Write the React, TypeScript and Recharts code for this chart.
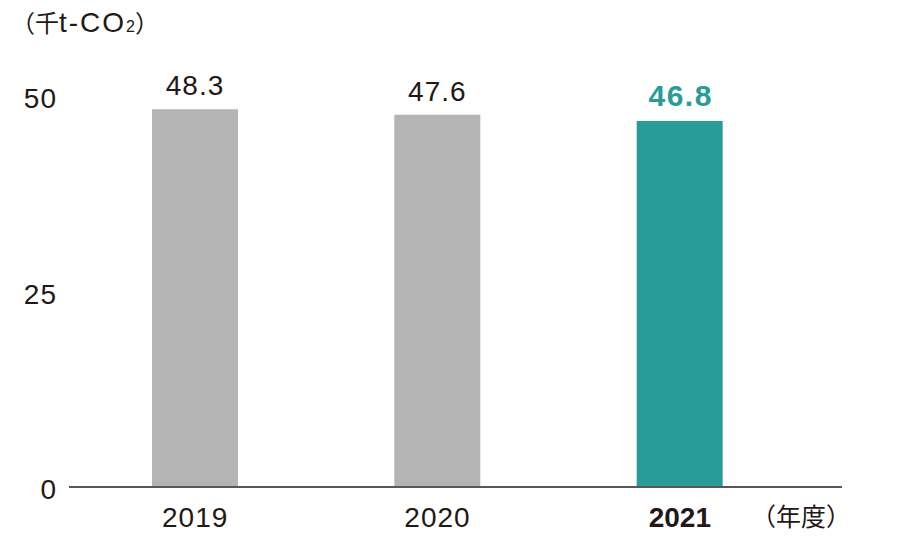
import { BarChart, Bar, XAxis, YAxis, Cell, LabelList } from 'recharts';

const years = ['2019', '2020', '2021'];
const emissions = [48.3, 47.6, 46.8];
const yTicks = [0, 25, 50];

const data = years.map((year, i) => ({ year, value: emissions[i] }));

const HIGHLIGHT = '2021';
const GRAY = '#b4b4b4';
const TEAL = '#279c98';
const INK = '#231815';
const NUM_FONT = '"Liberation Sans", Arial, sans-serif';
const JP_FONT = '"Noto Sans CJK JP", sans-serif';

const XTick = (props: any) => {
  const { x, y, payload } = props;
  const hi = payload.value === HIGHLIGHT;
  return (
    <text
      x={x}
      y={y + 40}
      textAnchor="middle"
      fontFamily={NUM_FONT}
      fontSize={28}
      fontWeight={hi ? 700 : 400}
      letterSpacing={hi ? 0 : 1}
      fill={INK}
    >
      {payload.value}
    </text>
  );
};

const YTick = (props: any) => {
  const { x, y, payload } = props;
  return (
    <text x={x} y={y + 12} textAnchor="end" fontFamily={NUM_FONT} fontSize={28} letterSpacing={1} fill={INK}>
      {payload.value}
    </text>
  );
};

const ValueLabel = (props: any) => {
  const { x, y, width, value, index } = props;
  const hi = data[index]?.year === HIGHLIGHT;
  return (
    <text
      x={x + width / 2 + (hi ? 1 : 0)}
      y={y - (hi ? 15 : 14)}
      textAnchor="middle"
      fontFamily={NUM_FONT}
      fontSize={hi ? 30 : 28}
      fontWeight={hi ? 700 : 400}
      letterSpacing={hi ? 1.5 : 1}
      fill={hi ? TEAL : INK}
    >
      {value}
    </text>
  );
};

export default function App() {
  return (
    <div style={{ position: 'absolute', left: 0, top: 0, width: 920, height: 537, background: '#fff' }}>
      <BarChart width={920} height={537} data={data} margin={{ top: 96, right: 78, bottom: 0, left: 0 }}>
        <XAxis
          dataKey="year"
          height={50}
          padding={{ left: 5, right: 41 }}
          axisLine={{ stroke: '#595757', strokeWidth: 2 }}
          tickLine={false}
          tickSize={0}
          tickMargin={0}
          tick={<XTick />}
          interval={0}
        />
        <YAxis
          width={69}
          domain={[0, 50]}
          ticks={yTicks}
          axisLine={false}
          tickLine={false}
          tickSize={0}
          tickMargin={12}
          tick={<YTick />}
        />
        <Bar dataKey="value" barSize={86} isAnimationActive={false}>
          {data.map((d) => (
            <Cell key={d.year} fill={d.year === HIGHLIGHT ? TEAL : GRAY} />
          ))}
          <LabelList dataKey="value" content={<ValueLabel />} />
        </Bar>
      </BarChart>
      <svg width={920} height={537} style={{ position: 'absolute', left: 0, top: 0, pointerEvents: 'none' }}>
        <text x={11} y={32} fontFamily={JP_FONT} fontSize={24} fill={INK}>
          （千
          <tspan fontFamily={NUM_FONT} fontSize={28} letterSpacing={2}>t-CO</tspan>
          <tspan fontFamily={NUM_FONT} fontSize={16}>2</tspan>）
        </text>
        <text x={751} y={526} fontFamily={JP_FONT} fontSize={25} fill={INK}>
          （年度）
        </text>
      </svg>
    </div>
  );
}
